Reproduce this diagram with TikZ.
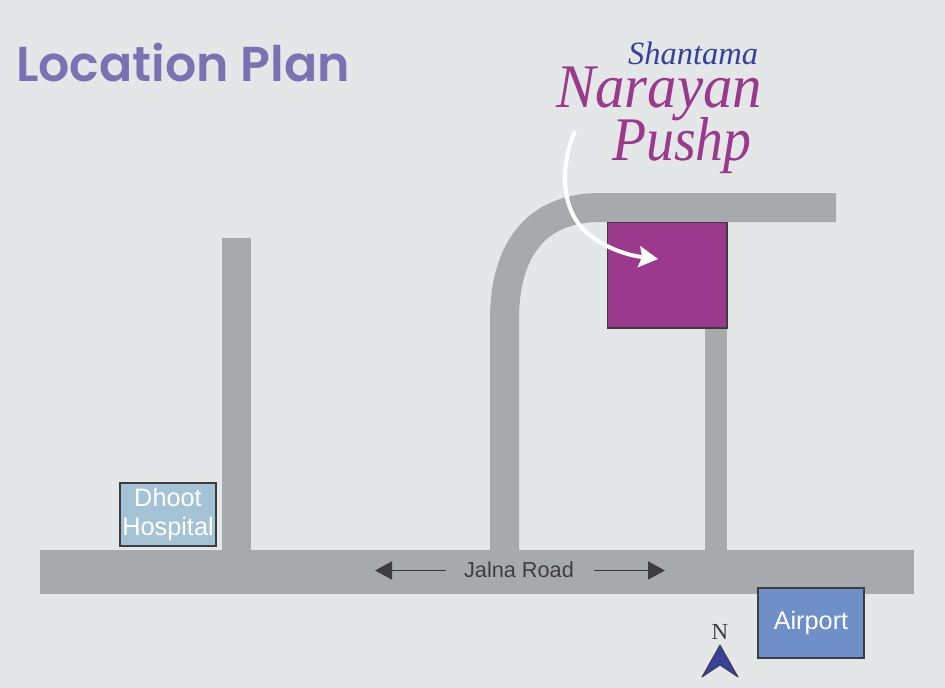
\documentclass[tikz,border=0pt]{standalone}
\usepackage{xcolor}
\usepackage{fontspec}
\setmainfont{Liberation Sans}
\newfontfamily\titlefont{Poppins SemiBold}
\newfontfamily\brandfont{Liberation Serif}
\newfontfamily\brandwide[FakeStretch=0.95]{Liberation Serif}
\newfontfamily\brandnarrow[FakeStretch=0.9]{Liberation Serif}
\usetikzlibrary{positioning,arrows.meta}

\definecolor{paper}{HTML}{E3E7E8}
\definecolor{roadgrey}{HTML}{A7AAAC}
\definecolor{plotpurple}{HTML}{9B3A8C}
\definecolor{edgedark}{HTML}{3F3C40}
\definecolor{hospitalblue}{HTML}{A4C4D5}
\definecolor{airportblue}{HTML}{6F8FC8}
\definecolor{compassblue}{HTML}{3A3F9B}
\definecolor{titleviolet}{HTML}{7B72B3}

\begin{document}
\begin{tikzpicture}
[x=1pt, y=-1pt,
    road/.style={fill=roadgrey, rectangle, inner sep=0pt, outer sep=0pt},
    box/.style={rectangle, draw=edgedark, line width=1.6pt, inner sep=0pt, text=white, align=center,
        font=\fontsize{25.3}{29}\selectfont},
    brand/.style={inner sep=0pt, anchor=base west}
    ]

    \useasboundingbox[fill=paper] (0,0) rectangle (945,688);

    % title
    \node[inner sep=0pt, anchor=base west, text=titleviolet, font=\titlefont\fontsize{49}{49}\selectfont]
        (title) at (16,81) {Location Plan};

    % roads
    \draw[roadgrey, line width=29pt] (504.5,552) -- (504.5,320)
        .. controls (504.5,245) and (540,207.5) .. (600,207.5) -- (836,207.5);
    \node[road, minimum width=29pt, minimum height=314pt] (leftroad) at (236.5,395) {};
    \node[road, minimum width=22pt, minimum height=224pt] (rightroad) at (716,440) {};
    \node[road, minimum width=874pt, minimum height=44pt] (mainroad) at (477,572) {};

    % buildings
    \node[box, fill=plotpurple, minimum width=119.4pt, minimum height=105.4pt] (plot) at (667,275) {};
    \node[box, fill=hospitalblue, minimum width=96.4pt, minimum height=63.4pt] (hospital) at (168,514.5) {Dhoot\\Hospital};
    \node[box, fill=airportblue, minimum width=106.4pt, minimum height=70.4pt] (airport) at (811,623) {Airport};

    % road label
    \node[inner sep=0pt, text=edgedark, font=\fontsize{21.7}{24}\selectfont] (jalna) at (519,570) {Jalna Road};
    \coordinate (westend) at (375,570.5);
    \coordinate (eastend) at (665,570.5);
    \draw[edgedark, line width=1.8pt, -{Stealth[length=17pt,width=18pt,inset=0pt]}]
        ([xshift=-18pt]jalna.west |- westend) -- (westend);
    \draw[edgedark, line width=1.8pt, -{Stealth[length=17pt,width=18pt,inset=0pt]}]
        ([xshift=20pt]jalna.east |- eastend) -- (eastend);

    % project name
    \node[brand, text=compassblue, font=\brandfont\itshape\fontsize{32.5}{33}\selectfont] (shantama) at (628,64) {Shantama};
    \node[brand, text=plotpurple, font=\brandwide\itshape\fontsize{62}{62}\selectfont] (narayan) at (556,107) {Narayan};
    \node[brand, text=plotpurple, font=\brandnarrow\itshape\fontsize{62}{62}\selectfont] (pushp) at (612,160) {Pushp};

    % pointer to the plot
    \coordinate (pointerstart) at (575,131);
    \coordinate (pointerend) at (658,259);
    \draw[white, line width=4pt, -{Stealth[length=19pt,width=21pt,inset=3pt]}] (pointerstart)
        .. controls (561,163) and (560,205) .. (583,229)
        .. controls (600,246) and (625,255) .. (pointerend);

    % north mark
    \node[inner sep=0pt, text=edgedark, font=\brandfont\fontsize{23}{23}\selectfont] (north) at (720,632) {N};
    \draw[fill=compassblue, draw=edgedark, line width=0.9pt, line join=round]
        (720,645) -- (738,677) -- (720,665) -- (702,677) -- cycle;
\end{tikzpicture}
\end{document}
